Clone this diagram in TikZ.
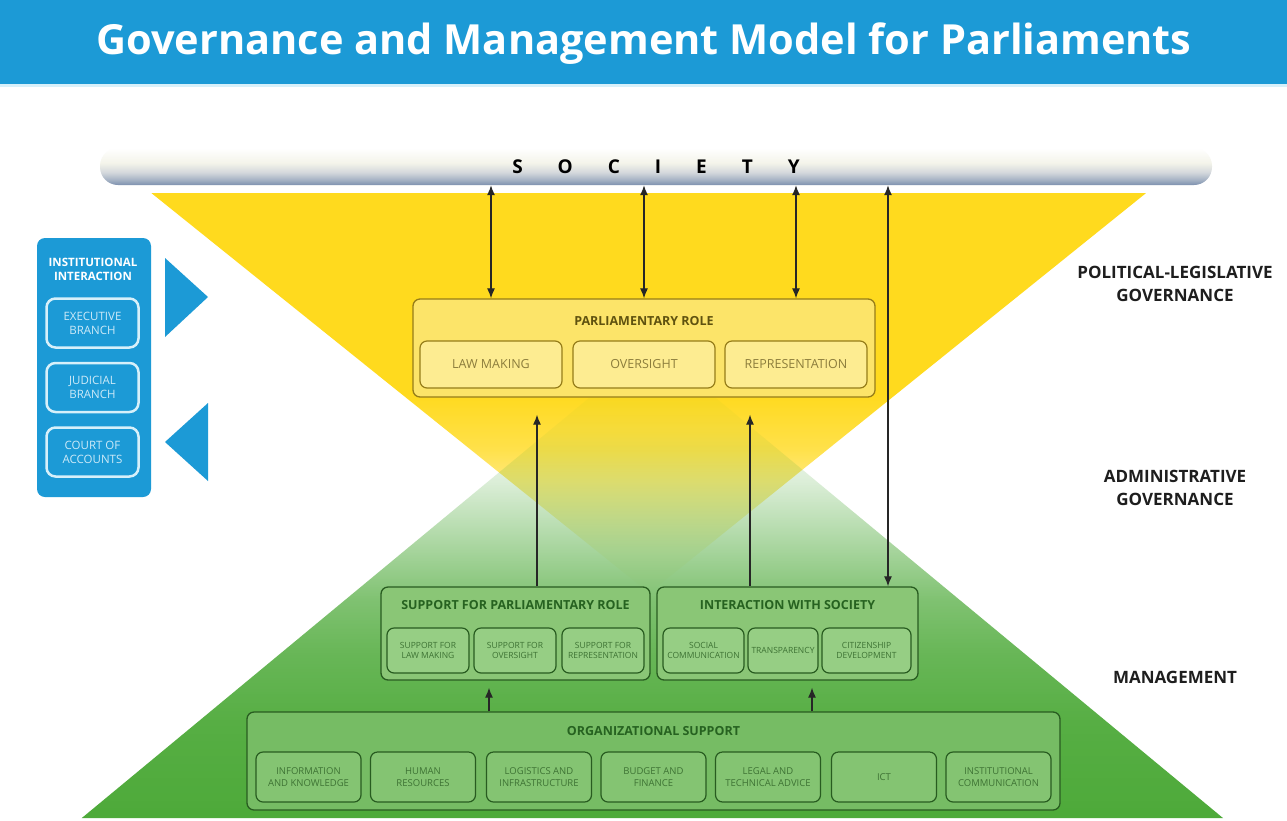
\documentclass[tikz,border=0pt]{standalone}
\usepackage{fontspec}
\setmainfont{Open Sans}
\usetikzlibrary{arrows.meta,fadings,calc}
\definecolor{tblue}{RGB}{28,154,214}
\definecolor{tyellow}{RGB}{255,218,30}
\definecolor{tgreen}{RGB}{78,170,58}
\definecolor{oliveb}{RGB}{150,125,25}
\definecolor{olivet}{RGB}{95,82,15}
\definecolor{olivetxt}{RGB}{140,125,60}
\definecolor{pfill}{RGB}{252,228,105}
\definecolor{psubfill}{RGB}{253,236,145}
\definecolor{gborder}{RGB}{40,92,32}
\definecolor{gtitle}{RGB}{38,98,32}
\definecolor{gtxt}{RGB}{62,115,52}
\definecolor{gfill}{RGB}{138,198,118}
\definecolor{gsubfill}{RGB}{150,206,132}
\definecolor{ofill}{RGB}{118,188,100}
\definecolor{osubfill}{RGB}{132,196,114}
\definecolor{isubline}{RGB}{215,240,250}
\definecolor{isubtxt}{RGB}{205,234,248}
\definecolor{socbot}{RGB}{125,145,175}
\definecolor{soclow}{RGB}{165,178,196}
\definecolor{socgrey}{RGB}{212,216,220}
\definecolor{socmid}{RGB}{244,244,234}
\definecolor{sidetxt}{RGB}{30,30,30}
\pgfdeclareverticalshading{socshade}{100bp}{color(0bp)=(socbot); color(25bp)=(socbot); color(32bp)=(soclow); color(42bp)=(socgrey); color(55bp)=(socmid); color(75bp)=(white); color(100bp)=(white)}
\pgfdeclareverticalshading{yshade}{100bp}{rgb(0bp)=(0,0,0); rgb(25bp)=(0,0,0); rgb(30bp)=(0.1,0.1,0.1); rgb(36.5bp)=(0.45,0.45,0.45); rgb(43bp)=(0.8,0.8,0.8); rgb(50bp)=(1,1,1); rgb(100bp)=(1,1,1)}
\pgfdeclareverticalshading{gshade}{100bp}{rgb(0bp)=(1,1,1); rgb(25bp)=(1,1,1); rgb(35bp)=(0.95,0.95,0.95); rgb(42.5bp)=(0.85,0.85,0.85); rgb(48bp)=(0.72,0.72,0.72); rgb(54.5bp)=(0.45,0.45,0.45); rgb(60.5bp)=(0.2,0.2,0.2); rgb(66bp)=(0.05,0.05,0.05); rgb(75bp)=(0,0,0); rgb(100bp)=(0,0,0)}
\tikzfading[name=yfade, shading=yshade]
\tikzfading[name=gfade, shading=gshade]
\begin{document}
\begin{tikzpicture}[x=1pt,y=-1pt,
  pbox/.style={draw=oliveb, fill=pfill, line width=1.3pt, rounded corners=7pt, inner sep=0pt},
  psub/.style={draw=oliveb, fill=psubfill, line width=1.2pt, rounded corners=7pt, inner sep=0pt,
     minimum width=142pt, minimum height=47pt, font=\fontsize{12.5}{14}\selectfont, text=olivetxt},
  ptitle/.style={font=\fontsize{12.5}{14}\selectfont\bfseries, text=olivet},
  gbox/.style={draw=gborder, fill=gfill, line width=1.3pt, rounded corners=7pt, inner sep=0pt},
  gsub/.style={draw=gborder, fill=gsubfill, line width=1.2pt, rounded corners=7pt, inner sep=0pt,
     minimum height=45pt, align=center, font=\fontsize{8.5}{10}\selectfont, text=gtxt},
  osub/.style={draw=gborder, fill=osubfill, line width=1.2pt, rounded corners=7pt, inner sep=0pt,
     minimum width=105pt, minimum height=50pt, align=center, font=\fontsize{9.5}{12}\selectfont, text=gtxt},
  gtitlest/.style={font=\fontsize{12.5}{14}\selectfont\bfseries, text=gtitle},
  ibox/.style={fill=tblue, rounded corners=8pt, inner sep=0pt},
  isub/.style={draw=isubline, line width=2.5pt, rounded corners=9pt, inner sep=0pt,
     minimum width=92pt, minimum height=49pt, align=center, font=\fontsize{11.5}{14}\selectfont, text=isubtxt},
  sidelab/.style={align=center, font=\fontsize{17}{23}\selectfont\bfseries, text=sidetxt},
  arr/.style={line width=1.2pt, draw=black!85, -{Latex[length=10pt,width=8pt]}},
  darr/.style={line width=1.2pt, draw=black!85, {Latex[length=10pt,width=8pt]}-{Latex[length=10pt,width=8pt]}}
]
\useasboundingbox (0,0) rectangle (1287,820);
\fill[white] (0,0) rectangle (1287,820);
% title bar
\fill[tblue] (0,0) rectangle (1287,84);
\fill[isubline] (0,84) rectangle (1287,87);
\node[text=white, font=\fontsize{41.5}{46}\selectfont\bfseries] (title) at (644,44) {Governance and Management Model for Parliaments};
% triangles
\fill[tyellow, path fading=yfade] (152,193) -- (1147,193) -- (650,593) -- cycle;
\fill[tgreen, path fading=gfade] (83,818) -- (1227,818) -- (655,345) -- cycle;
% society bar
\node[rounded corners=18pt, shading=socshade,
  minimum width=1112pt, minimum height=37pt, inner sep=0pt,
  font=\fontsize{19}{20}\selectfont\bfseries] (society) at (656,166.5)
  {S\hspace{35pt}O\hspace{35pt}C\hspace{35pt}I\hspace{35pt}E\hspace{35pt}T\hspace{35pt}Y};
% parliamentary role
\node[pbox, minimum width=462pt, minimum height=98pt] (parl) at (644,348) {};
\node[ptitle] (parlt) at (644,321) {PARLIAMENTARY ROLE};
\node[psub] (law) at (491,364.5) {LAW MAKING};
\node[psub] (over) at (644,364.5) {OVERSIGHT};
\node[psub] (rep) at (796,364.5) {REPRESENTATION};
% support for parliamentary role
\node[gbox, minimum width=269pt, minimum height=93pt] (sup) at (515.5,633.5) {};
\node[gtitlest] (supt) at (515.5,605) {SUPPORT FOR PARLIAMENTARY ROLE};
\node[gsub, minimum width=82pt] (s1) at (428,650.5) {SUPPORT FOR\\LAW MAKING};
\node[gsub, minimum width=82pt] (s2) at (515,650.5) {SUPPORT FOR\\OVERSIGHT};
\node[gsub, minimum width=82pt] (s3) at (603,650.5) {SUPPORT FOR\\REPRESENTATION};
% interaction with society
\node[gbox, minimum width=261pt, minimum height=93pt] (inter) at (787.5,633.5) {};
\node[gtitlest] (intert) at (787.5,605) {INTERACTION WITH SOCIETY};
\node[gsub, minimum width=81pt] (i1) at (703.5,650.5) {SOCIAL\\COMMUNICATION};
\node[gsub, minimum width=70pt] (i2) at (783,650.5) {TRANSPARENCY};
\node[gsub, minimum width=89pt] (i3) at (866.5,650.5) {CITIZENSHIP\\DEVELOPMENT};
% organizational support
\node[gbox, fill=ofill, minimum width=813pt, minimum height=98pt] (org) at (653.5,761) {};
\node[gtitlest] (orgt) at (653.5,731) {ORGANIZATIONAL SUPPORT};
\node[osub] (o1) at (308.5,777) {INFORMATION\\AND KNOWLEDGE};
\node[osub] (o2) at (423,777) {HUMAN\\RESOURCES};
\node[osub] (o3) at (539,777) {LOGISTICS AND\\INFRASTRUCTURE};
\node[osub] (o4) at (653.5,777) {BUDGET AND\\FINANCE};
\node[osub] (o5) at (768,777) {LEGAL AND\\TECHNICAL ADVICE};
\node[osub] (o6) at (884,777) {ICT};
\node[osub] (o7) at (998.5,777) {INSTITUTIONAL\\COMMUNICATION};
% institutional interaction panel
\node[ibox, minimum width=114pt, minimum height=259pt] (inst) at (94,367.5) {};
\node[align=center, text=white, font=\fontsize{11.5}{14}\selectfont\bfseries] (instt) at (93,269) {INSTITUTIONAL\\INTERACTION};
\node[isub] (exe) at (92.5,323) {EXECUTIVE\\BRANCH};
\node[isub] (jud) at (92.5,387.5) {JUDICIAL\\BRANCH};
\node[isub] (coa) at (92.5,452) {COURT OF\\ACCOUNTS};
\fill[tblue] (165,258) -- (165,337) -- (208,297) -- cycle;
\fill[tblue] (208,403) -- (208,481) -- (165,442) -- cycle;
% side labels
\node[sidelab] (pl) at (1175,284) {POLITICAL-LEGISLATIVE\\GOVERNANCE};
\node[sidelab] (ag) at (1175,488) {ADMINISTRATIVE\\GOVERNANCE};
\node[sidelab] (mg) at (1175,677) {MANAGEMENT};
% connectors
\draw[darr] (society.south -| law.north) -- (law.north |- parl.north);
\draw[darr] (society.south -| over.north) -- (over.north |- parl.north);
\draw[darr] (society.south -| rep.north) -- (rep.north |- parl.north);
\coordinate (soc888) at ($(society.south)+(232,0)$);
\draw[darr] (soc888) -- (soc888 |- inter.north);
\coordinate (supx) at ($(sup.north)+(21.5,0)$);
\draw[arr, shorten >=17pt] (supx) -- (supx |- parl.south);
\coordinate (interx) at ($(inter.north)+(-37.5,0)$);
\draw[arr, shorten >=17pt] (interx) -- (interx |- parl.south);
\coordinate (org1) at ($(org.north)+(-164.5,0)$);
\draw[arr, shorten >=7pt] (org1) -- (org1 |- sup.south);
\coordinate (org2) at ($(org.north)+(158.5,0)$);
\draw[arr, shorten >=7pt] (org2) -- (org2 |- inter.south);
\end{tikzpicture}
\end{document}
